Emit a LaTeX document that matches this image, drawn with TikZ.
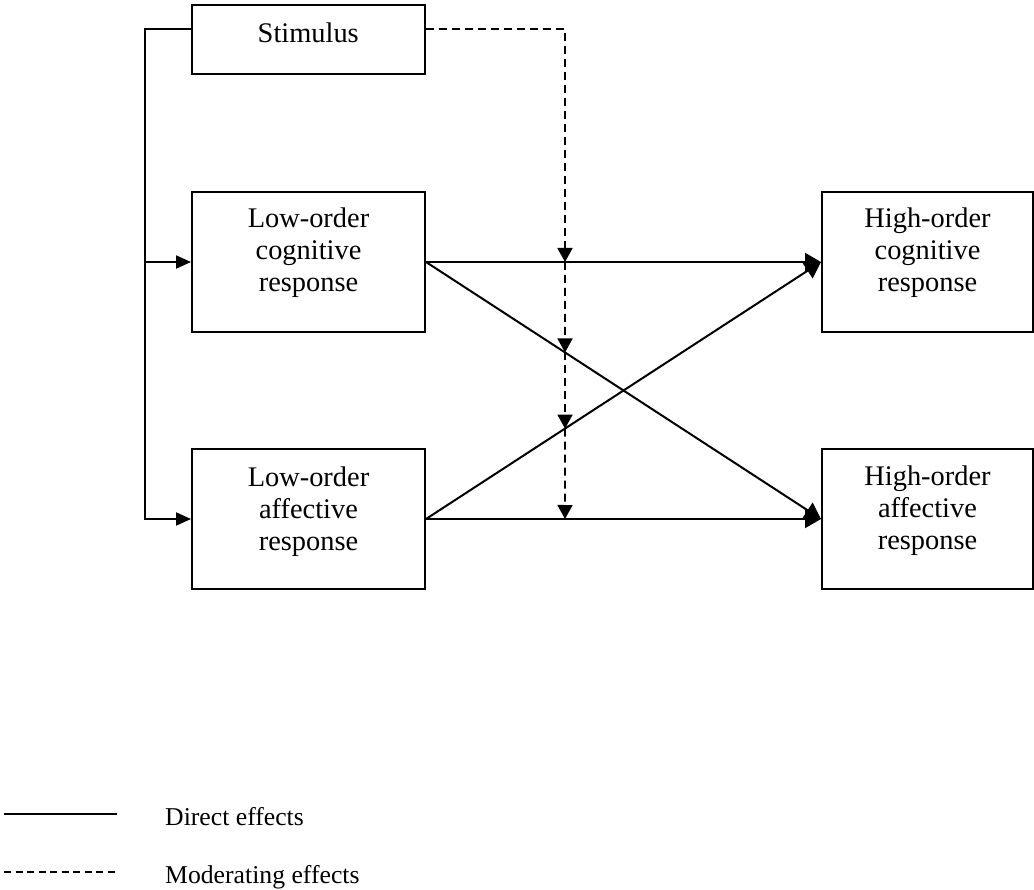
\documentclass[tikz,border=0pt]{standalone}
\usepackage{fontspec}
\setmainfont{Liberation Serif}
\usetikzlibrary{arrows.meta,calc}
\begin{document}
\begin{tikzpicture}[x=1pt,y=-1pt,
  box/.style={draw,line width=2pt,inner sep=0pt,minimum height=140pt},
  txt/.style={align=center,inner sep=0pt,anchor=base,font=\fontsize{28.4}{32}\selectfont},
  legtxt/.style={inner sep=0pt,anchor=base west,font=\fontsize{25.7}{30}\selectfont},
  conn/.style={line width=2pt},
  tipa/.style={-{Triangle[length=15pt,width=13pt]}},
  tipc/.style={-{Triangle[length=14pt,width=15pt]}},
  tipb/.style={-{Triangle[length=16pt,width=18pt]}},
  mod/.style={line width=1.8pt,dash pattern=on 8pt off 5pt},
]
\useasboundingbox (0,0) rectangle (1034,890);
% boxes
\node[box,minimum width=233.5pt,minimum height=69pt] (stim) at (308.25,39.5) {};
\node[box,minimum width=233pt] (LC) at (308.5,262) {};
\node[box,minimum width=233pt] (LA) at (308.5,519) {};
\node[box,minimum width=211pt] (HC) at (927.5,262) {};
\node[box,minimum width=211pt] (HA) at (927.5,519) {};
% texts (base anchor = baseline of last line)
\node[txt] (stimt) at (308.25,43) {Stimulus};
\node[txt] (LCt) at (308.5,292) {Low-order\\cognitive\\response};
\node[txt] (LAt) at (308.5,550) {Low-order\\affective\\response};
\node[txt] (HCt) at (927.5,292) {High-order\\cognitive\\response};
\node[txt] (HAt) at (927.5,549) {High-order\\affective\\response};
% helper coordinates
\coordinate (lx) at (145,0);
\coordinate (mx) at (565,0);
\coordinate (mb) at (565,890);
\coordinate (m1) at (LC.east -| mx);
\coordinate (m2) at (intersection of LC.east--HA.west and mx--mb);
\coordinate (m3) at (intersection of LA.east--HC.west and mx--mb);
\coordinate (m4) at (LA.east -| mx);
% stimulus to low-order responses
\draw[conn,tipa] ([yshift=10.5pt]stim.west) -| (LA.west -| lx) -- (LA.west);
\draw[conn,tipa] (LC.west -| lx) -- (LC.west);
% direct effects
\draw[conn,tipb] (LC.east) -- (HC.west);
\draw[conn,tipb] (LC.east) -- (HA.west);
\draw[conn,tipb] (LA.east) -- (HC.west);
\draw[conn,tipb] (LA.east) -- (HA.west);
% moderating effects
\draw[mod,tipc] ([yshift=10.5pt]stim.east) -| (m1);
\draw[mod,tipc] (m1) -- (m2);
\draw[mod,tipc] (m2) -- (m3);
\draw[mod,tipc] (m3) -- (m4);
% legend
\coordinate (d1) at (4,814);
\coordinate (d2) at (117,814);
\coordinate (e1) at (4,872);
\coordinate (e2) at (117,872);
\draw[conn] (d1) -- (d2);
\draw[line width=1.8pt,dash pattern=on 7pt off 4.5pt] (e1) -- (e2);
\node[legtxt] (dt) at (165,825) {Direct effects};
\node[legtxt] (mt) at (165,883) {Moderating effects};
\end{tikzpicture}
\end{document}
